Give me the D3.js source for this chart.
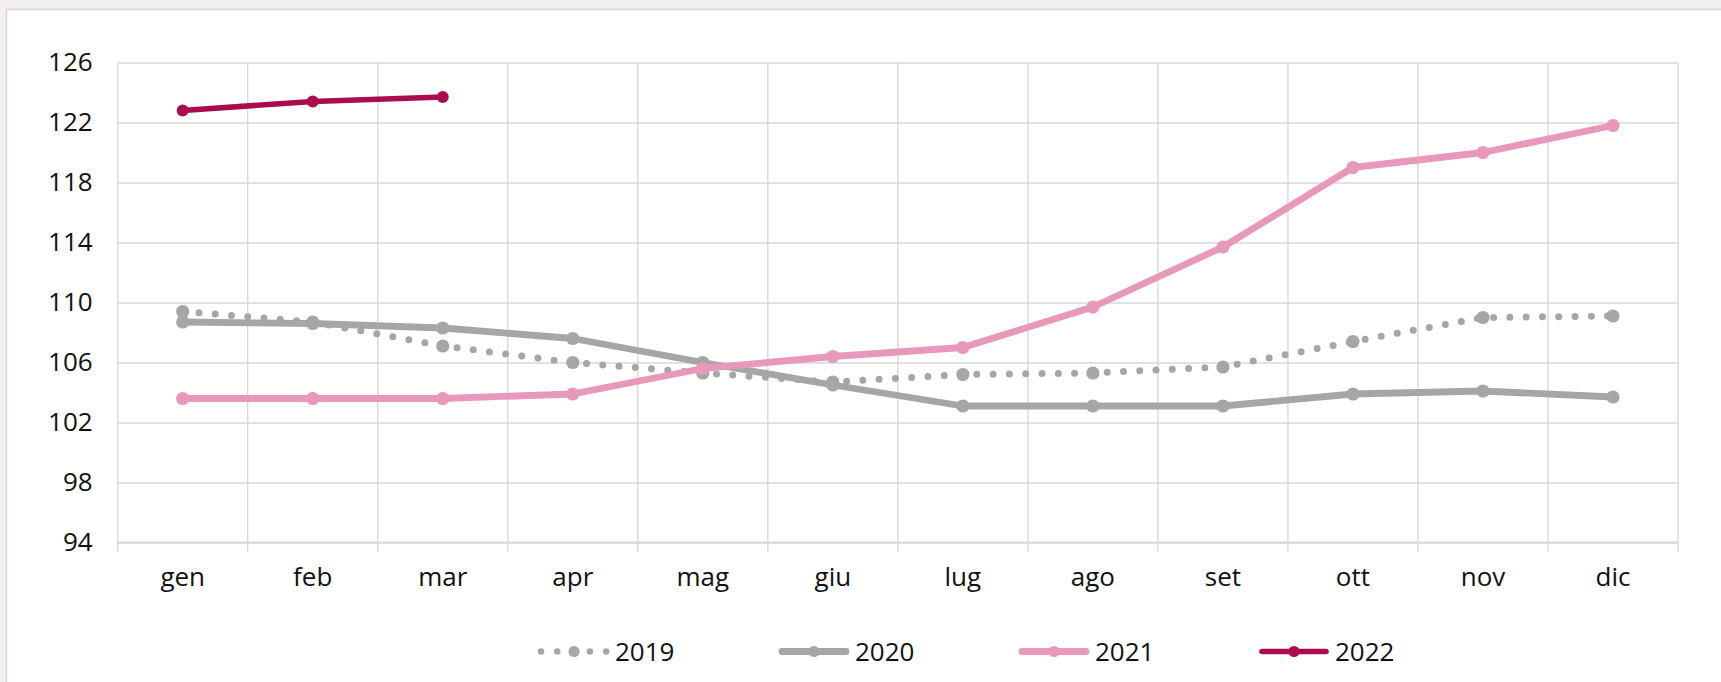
<!DOCTYPE html>
<html>
<head>
<meta charset="utf-8">
<title>Indice mensile 2019-2022</title>
<style>
    body { margin: 0; background: #f3eeef; }
    svg { display: block; }
    svg text { font-family: "Open Sans", "Lato", sans-serif; }
    .grid line { stroke: #d9d9d9; stroke-width: 1.4px; }
    .tick text { fill: #111; font-size: 26px; }
</style>
</head>
<body>
<svg width="1721" height="682"></svg>
<script src="https://d3js.org/d3.v7.min.js"></script>
<script>
// data
const months = ["gen", "feb", "mar", "apr", "mag", "giu", "lug", "ago", "set", "ott", "nov", "dic"];
const yTicks = [94, 98, 102, 106, 110, 114, 118, 122, 126];
const v2019 = [109.4, 108.7, 107.1, 106.0, 105.3, 104.7, 105.2, 105.3, 105.7, 107.4, 109.0, 109.1];
const v2020 = [108.7, 108.6, 108.3, 107.6, 106.0, 104.5, 103.1, 103.1, 103.1, 103.9, 104.1, 103.7];
const v2021 = [103.6, 103.6, 103.6, 103.9, 105.6, 106.4, 107.0, 109.7, 113.7, 119.0, 120.0, 121.8];
const v2022 = [122.8, 123.4, 123.7];
const seriesNames = ["2019", "2020", "2021", "2022"];

const series = [
    { name: "2019", values: v2019, color: "#a6a6a6", width: 7, dash: "0 16.3", r: 6.6 },
    { name: "2020", values: v2020, color: "#a6a6a6", width: 6.8, dash: null, r: 6.6 },
    { name: "2021", values: v2021, color: "#e899ba", width: 6.8, dash: null, r: 6.6 },
    { name: "2022", values: v2022, color: "#ab0d4c", width: 5.6, dash: null, r: 6 }
];

const svg = d3.select("svg");
const mLeft = 117.7, mRight = 1678, mTop = 62.5, mBottom = 542.5;

// white chart box
svg.append("rect")
    .attr("x", 6.5).attr("y", 9.5)
    .attr("width", 1730).attr("height", 700)
    .attr("fill", "#fff").attr("stroke", "#d6d6d6").attr("stroke-width", 1.5);

const x = d3.scaleBand().domain(months).range([mLeft, mRight]).padding(0);
const y = d3.scaleLinear().domain([94, 126]).range([mBottom, mTop]);

// horizontal grid + y labels
svg.append("g")
    .attr("class", "grid")
    .attr("transform", `translate(${mLeft},0)`)
    .call(d3.axisLeft(y).tickValues(yTicks).tickSize(-(mRight - mLeft)).tickPadding(25).tickFormat(d3.format("d")))
    .call(g => g.select(".domain").remove())
    .call(g => g.selectAll(".tick text").attr("x", -25));

// vertical grid at band edges, with small ticks below the axis
const edges = months.map(m => x(m)).concat([mRight]);
svg.append("g")
    .attr("class", "grid")
    .selectAll("line")
    .data(edges)
    .join("line")
    .attr("x1", d => d).attr("x2", d => d)
    .attr("y1", mTop).attr("y2", mBottom + 9);

svg.append("line")
    .attr("x1", mLeft).attr("x2", mRight)
    .attr("y1", mBottom).attr("y2", mBottom)
    .attr("stroke", "#d9d9d9").attr("stroke-width", 2.2);

// month labels
svg.append("g")
    .attr("transform", `translate(0,${mBottom})`)
    .call(d3.axisBottom(x).tickSize(0).tickPadding(25))
    .call(g => g.select(".domain").remove());

const line = d3.line()
    .x((d, i) => x(months[i]) + x.bandwidth() / 2)
    .y(d => y(d));

series.forEach(s => {
    const g = svg.append("g");
    g.append("path")
        .datum(s.values)
        .attr("d", line)
        .attr("fill", "none")
        .attr("stroke", s.color)
        .attr("stroke-width", s.width)
        .attr("stroke-linecap", "round")
        .attr("stroke-linejoin", "round")
        .attr("stroke-dasharray", s.dash);
    g.selectAll("circle")
        .data(s.values)
        .join("circle")
        .attr("cx", (d, i) => x(months[i]) + x.bandwidth() / 2)
        .attr("cy", d => y(d))
        .attr("r", s.r)
        .attr("fill", s.color);
});

// legend
const legend = svg.append("g").attr("transform", "translate(538,651.5)");
series.forEach((s, i) => {
    const g = legend.append("g").attr("transform", `translate(${i * 240},0)`);
    g.append("line")
        .attr("x1", s.dash ? 3 : 4).attr("x2", s.dash ? 69 : 68)
        .attr("stroke", s.color)
        .attr("stroke-width", s.dash ? 6.5 : s.width)
        .attr("stroke-linecap", "round")
        .attr("stroke-dasharray", s.dash);
    g.append("circle").attr("cx", 36).attr("r", 5.6).attr("fill", s.color);
    g.append("text")
        .attr("x", 77).attr("y", 9.5)
        .attr("font-size", 26)
        .attr("fill", "#111")
        .text(seriesNames[i]);
});
</script>
</body>
</html>
